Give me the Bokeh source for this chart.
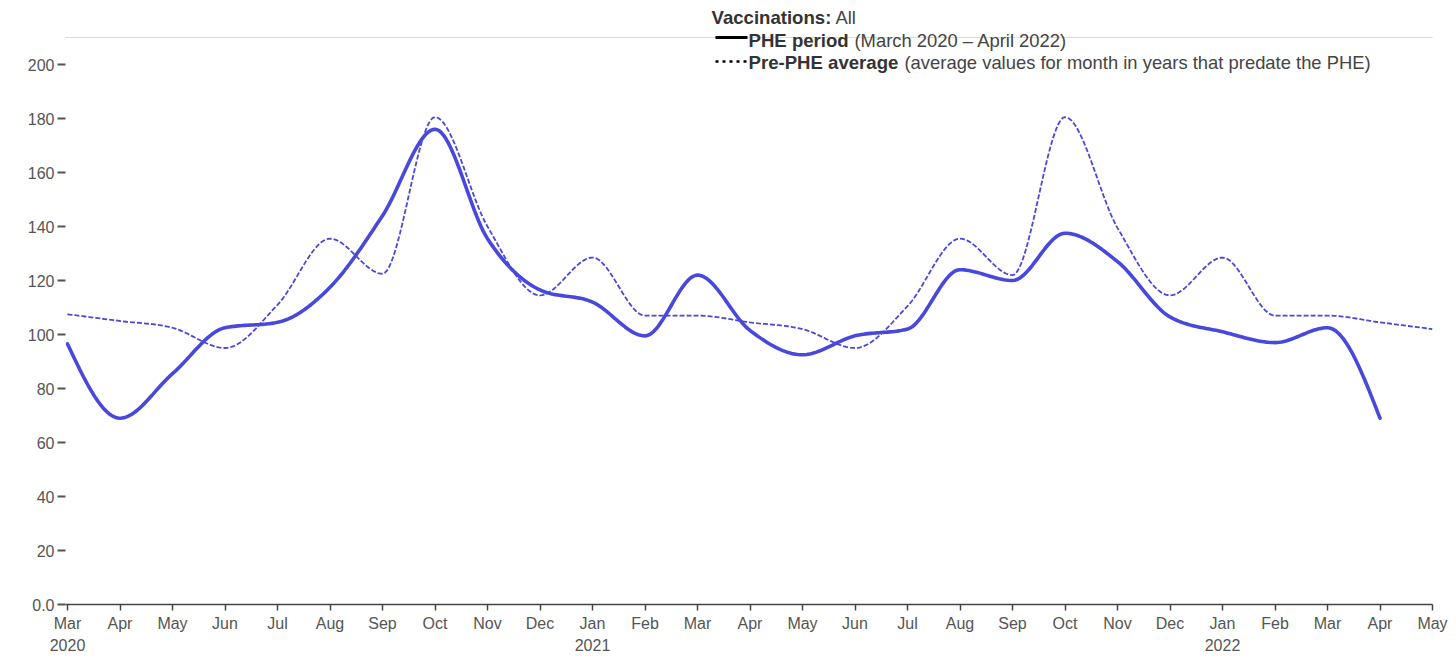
import numpy as np
from bokeh.plotting import figure
from bokeh.models import FixedTicker, Span, BoxAnnotation
from bokeh.core.properties import value
from bokeh.embed import file_html
from bokeh.resources import INLINE

# ---------------- data ----------------
month_labels = ["Mar", "Apr", "May", "Jun", "Jul", "Aug", "Sep", "Oct", "Nov", "Dec",
                "Jan", "Feb", "Mar", "Apr", "May", "Jun", "Jul", "Aug", "Sep", "Oct",
                "Nov", "Dec", "Jan", "Feb", "Mar", "Apr", "May"]
year_labels = {0: "2020", 10: "2021", 22: "2022"}

phe_period = [96.5, 69, 85.5, 102.5, 104.5, 117.5, 144, 176, 135.5, 116.5, 112, 99.5,
              122, 101.5, 92.5, 99.5, 102, 124, 120, 137.5, 127, 106.5, 101, 97, 102.5, 69]
pre_phe_average = [107.5, 105, 102.5, 95, 111, 135.5, 122.5, 180.5, 140, 114.5, 128.5, 107,
                   107, 104.5, 102, 95, 110.5, 135.5, 122, 180.5, 139.5, 114.5, 128.5, 107,
                   107, 104.5, 102]

y_ticks = [0, 20, 40, 60, 80, 100, 120, 140, 160, 180, 200]

LINE_COLOR = "#4848dc"
FONT = "Liberation Sans"


def monotone_x(xs, ys, n=24):
    """d3 curveMonotoneX rendered as a dense polyline."""
    x = np.asarray(xs, float)
    y = np.asarray(ys, float)
    N = len(x)
    h = np.diff(x)
    s = np.diff(y) / h
    t = np.zeros(N)
    sgn = lambda v: -1.0 if v < 0 else 1.0
    for i in range(1, N - 1):
        h0, h1 = h[i - 1], h[i]
        s0, s1 = s[i - 1], s[i]
        p_ = (s0 * h1 + s1 * h0) / (h0 + h1)
        t[i] = (sgn(s0) + sgn(s1)) * min(abs(s0), abs(s1), 0.5 * abs(p_))
    t[0] = (3 * s[0] - t[1]) / 2
    t[-1] = (3 * s[-1] - t[-2]) / 2
    out_x, out_y = [x[0]], [y[0]]
    u = np.linspace(0, 1, n + 1)[1:]
    for i in range(N - 1):
        d = h[i]
        p0 = (x[i], y[i])
        p1 = (x[i] + d / 3, y[i] + d * t[i] / 3)
        p2 = (x[i + 1] - d / 3, y[i + 1] - d * t[i + 1] / 3)
        p3 = (x[i + 1], y[i + 1])
        b0 = (1 - u) ** 3
        b1 = 3 * (1 - u) ** 2 * u
        b2 = 3 * (1 - u) * u ** 2
        b3 = u ** 3
        out_x.extend((b0 * p0[0] + b1 * p1[0] + b2 * p2[0] + b3 * p3[0]).tolist())
        out_y.extend((b0 * p0[1] + b1 * p1[1] + b2 * p2[1] + b3 * p3[1]).tolist())
    return out_x, out_y


# ---------------- figure ----------------
W, H = 1456, 658
FRAME_LEFT, FRAME_RIGHT, FRAME_BOTTOM = 65, 1432, 604
PX_PER_MONTH = 52.5
PX_PER_UNIT = 2.7
X0_PAGE = 67
x_start = (FRAME_LEFT - X0_PAGE) / PX_PER_MONTH
y_end = FRAME_BOTTOM / PX_PER_UNIT

p = figure(width=W, height=H, output_backend="svg", toolbar_location=None,
           x_range=(x_start, len(month_labels) - 1), y_range=(0, y_end),
           min_border_left=FRAME_LEFT, min_border_right=W - FRAME_RIGHT,
           min_border_top=0, min_border_bottom=H - FRAME_BOTTOM)
p.outline_line_color = None
p.xgrid.visible = False
p.ygrid.visible = False
p.background_fill_color = "white"

# x axis
xa = p.xaxis[0]
xa.ticker = FixedTicker(ticks=list(range(len(month_labels))))
overrides = {}
for i, m in enumerate(month_labels):
    overrides[i] = m + ("\n" + year_labels[i] if i in year_labels else "")
xa.major_label_overrides = overrides
xa.axis_line_color = "#444444"
xa.axis_line_width = 1.5
xa.major_tick_line_color = "#444444"
xa.major_tick_line_width = 1.5
xa.major_tick_out = 6
xa.major_tick_in = 0
xa.minor_tick_line_color = None
xa.major_label_text_font = FONT
xa.major_label_text_font_size = "16px"
xa.major_label_text_color = "#555555"
xa.major_label_text_line_height = 1.35
xa.major_label_standoff = 4

# y axis
ya = p.yaxis[0]
ya.ticker = FixedTicker(ticks=y_ticks)
ya.major_label_overrides = {0: "0.0"}
ya.axis_line_color = None
ya.major_tick_line_color = "#555555"
ya.major_tick_line_width = 2
ya.major_tick_out = 8
ya.major_tick_in = 0
ya.minor_tick_line_color = None
ya.major_label_text_font = FONT
ya.major_label_text_font_size = "16px"
ya.major_label_text_color = "#555555"
ya.major_label_standoff = 3

# series
months_idx = list(range(len(month_labels)))
px, py = monotone_x(months_idx[:len(pre_phe_average)], pre_phe_average)
p.line(px, py, line_color=LINE_COLOR, line_width=1.8, line_dash="5 2")
sx, sy = monotone_x(months_idx[:len(phe_period)], phe_period)
p.line(sx, sy, line_color=LINE_COLOR, line_width=3.6, line_cap="round", line_join="round")

# ---------------- top rule + legend (page-pixel layout helpers) ----------------
def dx(page_x):
    return (page_x - X0_PAGE) / PX_PER_MONTH


def dy(page_y):
    return (FRAME_BOTTOM - page_y) / PX_PER_UNIT


p.add_layout(Span(location=dy(37), dimension="width", line_color="#dcdcdc",
                  line_width=1.2, level="underlay"))
try:
    rule = BoxAnnotation(left=7, right=W, top=36.4, bottom=37.6,
                         left_units="canvas", right_units="canvas",
                         top_units="canvas", bottom_units="canvas",
                         fill_color="#dcdcdc", fill_alpha=1, line_color=None,
                         level="underlay")
    p.add_layout(rule)
except Exception:
    pass

p.line(x=[dx(715), dx(747)], y=[dy(37), dy(37)], line_color="black", line_width=3)
p.line(x=[dx(715), dx(747)], y=[dy(61), dy(61)], line_color="black",
       line_width=2.5, line_dash="3 4")

bold_items = [("Vaccinations:", 711, 17), ("PHE period", 748, 40), ("Pre-PHE average", 748, 62)]
reg_items = [("All", 835, 17), ("(March 2020 \u2013 April 2022)", 854, 40),
             ("(average values for month in years that predate the PHE)", 904, 62)]
p.text(x=[dx(a[1]) for a in bold_items], y=[dy(a[2]) for a in bold_items],
       text=[a[0] for a in bold_items], text_font=value(FONT), text_font_style="bold",
       text_font_size="18.6px", text_color="#333333", text_baseline="middle", text_align="left")
p.text(x=[dx(a[1]) for a in reg_items], y=[dy(a[2]) for a in reg_items],
       text=[a[0] for a in reg_items], text_font=value(FONT), text_font_style="normal",
       text_font_size="18.4px", text_color="#444444", text_baseline="middle", text_align="left")

open("out.html", "w").write(file_html(p, INLINE))
